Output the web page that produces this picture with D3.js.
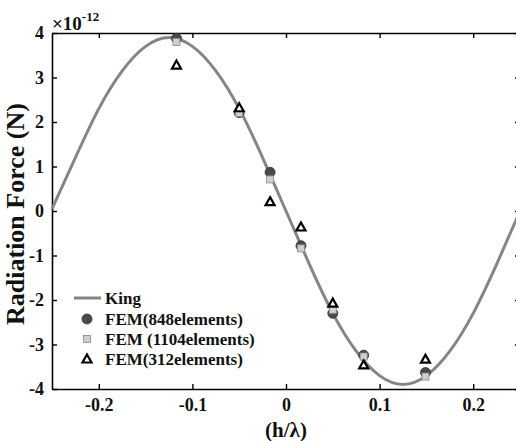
<!DOCTYPE html>
<html>
<head>
<meta charset="utf-8">
<script src="https://cdn.jsdelivr.net/npm/d3@7"></script>
<style>
  html, body { margin: 0; padding: 0; background: #fff; }
  svg { display: block; }
  text { font-family: "Liberation Serif", "Times New Roman", serif; font-weight: bold; fill: #111; }
</style>
</head>
<body>
<svg id="chart" width="516" height="441"></svg>
<script>
// Theoretical radiation force (King), sampled along h/λ
const kingH = [-0.25, -0.225, -0.2, -0.175, -0.15, -0.125, -0.1, -0.075, -0.05, -0.025, 0,
               0.025, 0.05, 0.075, 0.1, 0.125, 0.15, 0.175, 0.2, 0.225, 0.25];
const kingF = [0.05, 1.2, 2.3, 3.15, 3.7, 3.9, 3.7, 3.15, 2.3, 1.2, 0,
               -1.2, -2.3, -3.15, -3.7, -3.9, -3.7, -3.15, -2.3, -1.2, 0];

// FEM results at the sampled positions (units of 1e-12 N)
const femH = [-0.117, -0.05, -0.017, 0.016, 0.05, 0.083, 0.149];
const fem848 = [3.88, 2.21, 0.87, -0.78, -2.3, -3.24, -3.63];
const fem1104 = [3.8, 2.2, 0.71, -0.84, -2.22, -3.27, -3.72];
const fem312 = [3.28, 2.32, 0.21, -0.36, -2.07, -3.46, -3.33];

const xTicks = [-0.2, -0.1, 0, 0.1, 0.2];
const yTicks = [-4, -3, -2, -1, 0, 1, 2, 3, 4];

const svg = d3.select("#chart");
const plotLeft = 52, plotRight = 520, plotTop = 33, plotBottom = 389;

const x = d3.scaleLinear().domain([-0.25, 0.25]).range([plotLeft, plotRight]);
const y = d3.scaleLinear().domain([-4, 4]).range([plotBottom, plotTop]);

// Box axes with inward ticks
const axisStyle = g => {
  g.select(".domain").attr("stroke", "#000").attr("stroke-width", 1.6);
  g.selectAll(".tick line").attr("stroke", "#000").attr("stroke-width", 1.4);
};
const labelStyle = g => g.selectAll("text").attr("font-size", 18)
  .attr("font-family", "Liberation Serif").attr("font-weight", "bold").attr("fill", "#111");
const fmtX = d => d === 0 ? "0" : d3.format(".1f")(d).replace("−", "-");

svg.append("g").attr("transform", `translate(0,${plotBottom})`)
  .call(d3.axisBottom(x).tickValues(xTicks).tickSizeInner(-5).tickSizeOuter(0).tickPadding(9).tickFormat(fmtX))
  .call(axisStyle).call(labelStyle);

svg.append("g").attr("transform", `translate(0,${plotTop})`)
  .call(d3.axisTop(x).tickValues(xTicks).tickSizeInner(-5).tickSizeOuter(0).tickFormat(""))
  .call(axisStyle);

svg.append("g").attr("transform", `translate(${plotLeft},0)`)
  .call(d3.axisLeft(y).tickValues(yTicks).tickSizeInner(-5).tickSizeOuter(0).tickPadding(8).tickFormat(d => String(d)))
  .call(axisStyle).call(labelStyle);

svg.append("g").attr("transform", `translate(${plotRight},0)`)
  .call(d3.axisRight(y).tickValues(yTicks).tickSizeInner(-5).tickSizeOuter(0).tickFormat(""))
  .call(axisStyle);

// Exponent label
const expo = svg.append("text").attr("x", 52).attr("y", 30).attr("font-size", 19);
expo.append("tspan").text("×10");
expo.append("tspan").attr("dy", -9).attr("font-size", 13).text("-12");

// Axis titles
svg.append("text").attr("x", x(0)).attr("y", 437).attr("text-anchor", "middle")
  .attr("font-size", 21).text("(h/λ)");
svg.append("text").attr("transform", `translate(24,214) rotate(-90)`)
  .attr("text-anchor", "middle").attr("font-size", 26).text("Radiation Force (N)");

// King curve
const kingData = kingH.map((h, i) => [h, kingF[i]]);
svg.append("path").datum(kingData)
  .attr("fill", "none").attr("stroke", "#858585").attr("stroke-width", 3)
  .attr("d", d3.line().x(d => x(d[0])).y(d => y(d[1])).curve(d3.curveNatural));

// Marker drawers
const circleMark = (g, cx, cy) => g.append("circle").attr("cx", cx).attr("cy", cy).attr("r", 5)
  .attr("fill", "#4a4a4a").attr("stroke", "#333").attr("stroke-width", 0.8);
const squareMark = (g, cx, cy) => g.append("rect").attr("x", cx - 3.5).attr("y", cy - 3.5)
  .attr("width", 7).attr("height", 7).attr("fill", "#cfcfcf").attr("stroke", "#8a8a8a").attr("stroke-width", 0.8);
const triMark = (g, cx, cy) => g.append("path")
  .attr("d", `M${cx},${cy - 4.5}L${cx + 4.5},${cy + 3.5}L${cx - 4.5},${cy + 3.5}Z`)
  .attr("fill", "#fff").attr("stroke", "#000").attr("stroke-width", 2.2);

const marks = svg.append("g");
femH.forEach((h, i) => circleMark(marks, x(h), y(fem848[i])));
femH.forEach((h, i) => squareMark(marks, x(h), y(fem1104[i])));
femH.forEach((h, i) => triMark(marks, x(h), y(fem312[i])));

// Legend
const legendLabels = ["King", "FEM(848elements)", "FEM (1104elements)", "FEM(312elements)"];
const lg = svg.append("g");
const rowY = [298, 319, 339, 359];
lg.append("line").attr("x1", 74).attr("x2", 101).attr("y1", rowY[0]).attr("y2", rowY[0])
  .attr("stroke", "#858585").attr("stroke-width", 3);
circleMark(lg, 87, rowY[1]);
squareMark(lg, 87, rowY[2]);
triMark(lg, 87, rowY[3]);
legendLabels.forEach((t, i) => {
  lg.append("text").attr("x", 105).attr("y", rowY[i] + 6).attr("font-size", 17).text(t);
});
</script>
</body>
</html>
